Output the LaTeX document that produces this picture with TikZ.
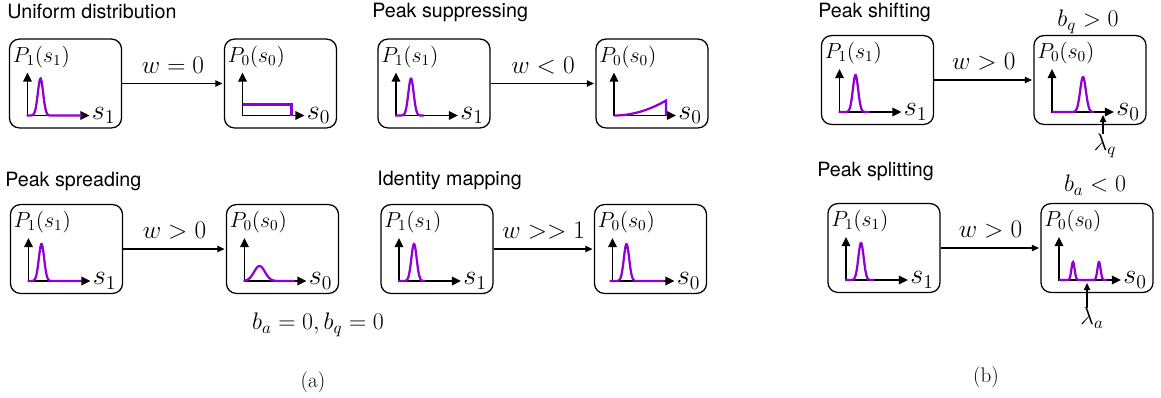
\RequirePackage{fix-cm}
\documentclass[tikz,border=0pt]{standalone}
\usepackage{fontspec}
\newfontfamily\ttlfont{TeX Gyre Heros}
\usepackage{tikz}
\usetikzlibrary{arrows.meta,positioning,calc}
\definecolor{cPeak}{RGB}{145,0,210}
% one distribution panel: name, centre x, centre y, index
\newcommand{\distpanel}[4]{%
  \node[panel] (#1) at (#2,#3) {};
  \node[plab] (#1lab) at ({#2-53},{#3-21.5}) {$P_#4(s_#4)$};
  \coordinate (#1o) at ({#2-38},{#3+32});
  \draw[axis] ($(#1o)+(0,-43)$) -- (#1o) -- ($(#1o)+(62,0)$);
  \node[slab] (#1s) at ($(#1o)+(64,0)$) {$s_#4$};
}

\begin{document}
\begin{tikzpicture}[
    x=0.025cm, y=-0.025cm,
    panel/.style={rectangle,draw,line width=0.9pt,rounded corners=7pt,minimum width=2.8cm,minimum height=2.22cm,inner sep=0pt},
    plab/.style={anchor=base west,inner sep=0pt,font=\fontsize{15.5}{17}\selectfont},
    slab/.style={anchor=west,inner sep=0pt,font=\fontsize{20}{22}\selectfont},
    axis/.style={line width=1.4pt,{Triangle[length=6.5pt,width=6pt]}-{Triangle[length=6.5pt,width=6pt]}},
    peak/.style={cPeak,line width=1.6pt},
    conn/.style={-{Triangle[length=5pt,width=4.5pt]},line width=0.8pt,shorten >=1pt},
    wlab/.style={midway,above=6.5pt,inner sep=0pt,font=\fontsize{18}{20}\selectfont},
    title/.style={anchor=base west,inner sep=0pt,font=\fontsize{14}{16}\ttlfont},
    blab/.style={inner sep=0pt,font=\fontsize{17}{19}\selectfont},
    subcap/.style={inner sep=0pt,font=\fontsize{15}{17}\selectfont}
  ]
  \useasboundingbox (0,0) rectangle (1161,397);

  % (a) titles
  \node[title] (t1) at (7,18) {Uniform distribution};
  \node[title] (t2) at (372,17) {Peak suppressing};
  \node[title] (t3) at (5,186) {Peak spreading};
  \node[title] (t4) at (377,185) {Identity mapping};

  % (a) panels
  \distpanel{b1}{65.5}{83.5}{1}
  \distpanel{b2}{280.5}{83.5}{0}
  \distpanel{b3}{434}{83.5}{1}
  \distpanel{b4}{652}{83.5}{0}
  \distpanel{b5}{66.5}{249}{1}
  \distpanel{b6}{282.5}{249}{0}
  \distpanel{b7}{437}{249}{1}
  \distpanel{b8}{650.5}{249}{0}

  \draw[peak,shift={(b1o)}] plot[domain=-1:55,samples=80] (\x,{-37*exp(-0.07*(\x-13)^2)});
  \draw[peak,shift={(b2o)}] (0,-11) -- (49,-11) -- (49,0);
  \draw[peak,shift={(b3o)}] plot[domain=-1:28,samples=60] (\x,{-37*exp(-0.07*(\x-15)^2)});
  \draw[peak,shift={(b4o)}] plot[domain=0:52,samples=40] (\x,{-15*(\x/52)^2}) -- (52,0);
  \draw[peak,shift={(b5o)}] plot[domain=-1:53,samples=80] (\x,{-37*exp(-0.07*(\x-13)^2)});
  \draw[peak,shift={(b6o)}] plot[domain=-1:50,samples=60] (\x,{-15*exp(-0.017*(\x-15)^2)});
  \draw[peak,shift={(b7o)}] plot[domain=-1:26,samples=60] (\x,{-37*exp(-0.07*(\x-15)^2)});
  \draw[peak,shift={(b8o)}] plot[domain=-3:52,samples=80] (\x,{-37*exp(-0.07*(\x-14)^2)});

  \draw[conn] (b1) -- (b2) node[wlab] {$w = 0$};
  \draw[conn] (b3) -- (b4) node[wlab] {$w < 0$};
  \draw[conn] (b5) -- (b6) node[wlab] {$w > 0$};
  \draw[conn] (b7) -- (b8) node[wlab] {$w >> 1$};

  \node[blab] (b0) at (318,325) {$b_a = 0, b_q = 0$};
  \node[subcap] (capa) at (313,382) {(a)};

  % (b)
  \node[title] (t5) at (818,17) {Peak shifting};
  \node[title] (t6) at (817,176) {Peak splitting};

  \distpanel{b9}{877.5}{80}{1}
  \distpanel{b10}{1090}{80}{0}
  \distpanel{b11}{884}{248}{1}
  \distpanel{b12}{1097}{248}{0}

  \draw[peak,shift={(b9o)}] plot[domain=-1:30,samples=60] (\x,{-37*exp(-0.07*(\x-16)^2)});
  \draw[peak,shift={(b10o)}] plot[domain=0:42,samples=60] (\x,{-35*exp(-0.06*(\x-31)^2)});
  \draw[peak,shift={(b11o)}] plot[domain=-1:28,samples=60] (\x,{-37*exp(-0.07*(\x-15)^2)});
  \draw[peak,shift={(b12o)}] plot[domain=0:48,samples=100] (\x,{-18*exp(-0.2*(\x-14)^2)-18*exp(-0.2*(\x-40)^2)});

  \draw[conn] (b9) -- (b10) node[wlab] {$w > 0$};
  \draw[conn] (b11) -- (b12) node[wlab] {$w > 0$};

  \node[blab] (bq) at (1088,22) {$b_q > 0$};
  \node[blab] (ba) at (1095,185) {$b_a < 0$};

  \node[blab] (lq) at (1105,146) {$\lambda_q$};
  \coordinate (lqt) at (1103,115);
  \draw[conn,shorten >=0pt] (lq.north -| lqt) -- (lqt);
  \node[blab] (la) at (1092,318) {$\lambda_a$};
  \coordinate (lat) at (1087,283);
  \draw[conn,shorten >=0pt] (la.north -| lat) -- (lat);

  \node[subcap] (capb) at (986,377) {(b)};
\end{tikzpicture}
\end{document}
